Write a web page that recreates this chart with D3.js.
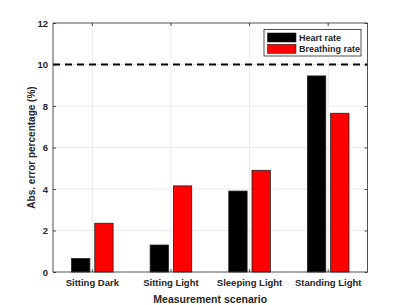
<!DOCTYPE html>
<html>
<head>
<meta charset="utf-8">
<script src="https://cdn.jsdelivr.net/npm/d3@7"></script>
<style>
  body { margin: 0; background: #fff; }
  text { font-family: "Liberation Sans", Arial, sans-serif; font-weight: bold; fill: #262626; }
</style>
</head>
<body>
<svg id="chart" width="407" height="305"></svg>
<script>
var scenarios = ["Sitting Dark", "Sitting Light", "Sleeping Light", "Standing Light"];
var heartRate = [0.65, 1.3, 3.9, 9.45];
var breathingRate = [2.35, 4.15, 4.9, 7.65];
var seriesNames = ["Heart rate", "Breathing rate"];
var seriesColors = ["#000000", "#ff0000"];
var yTicks = [0, 2, 4, 6, 8, 10, 12];
var threshold = 10;

var svg = d3.select("#chart"),
    margin = {top: 23, right: 39.5, bottom: 33, left: 53},
    width = +svg.attr("width") - margin.left - margin.right,
    height = +svg.attr("height") - margin.top - margin.bottom,
    g = svg.append("g").attr("transform", "translate(" + margin.left + "," + margin.top + ")");

var x = d3.scaleBand().domain(scenarios).range([0, width]).paddingInner(0).paddingOuter(0);
var y = d3.scaleLinear().domain([0, 12]).range([height, 0]);
var xs = d3.scaleBand().domain(seriesNames).range([x.bandwidth() / 2 - 20.8, x.bandwidth() / 2 + 20.8]).paddingInner(0.21);

// grid
g.append("g").selectAll("line")
    .data(yTicks.slice(1, -1))
    .enter().append("line")
    .attr("x1", 0).attr("x2", width)
    .attr("y1", function(d) { return y(d); })
    .attr("y2", function(d) { return y(d); })
    .attr("stroke", "#ebebeb").attr("stroke-width", 1);

g.append("g").selectAll("line")
    .data(scenarios)
    .enter().append("line")
    .attr("x1", function(d) { return x(d) + x.bandwidth() / 2; })
    .attr("x2", function(d) { return x(d) + x.bandwidth() / 2; })
    .attr("y1", 0).attr("y2", height)
    .attr("stroke", "#ebebeb").attr("stroke-width", 1);

// bars
var rows = scenarios.map(function(s, i) {
    return {name: s, values: [heartRate[i], breathingRate[i]]};
});

var groups = g.selectAll(".grp")
    .data(rows)
    .enter().append("g")
    .attr("class", "grp")
    .attr("transform", function(d) { return "translate(" + x(d.name) + ",0)"; });

groups.selectAll("rect")
    .data(function(d) { return d.values.map(function(v, j) { return {v: v, s: seriesNames[j], c: seriesColors[j]}; }); })
    .enter().append("rect")
    .attr("x", function(d) { return xs(d.s); })
    .attr("width", xs.bandwidth())
    .attr("y", function(d) { return y(d.v); })
    .attr("height", function(d) { return height - y(d.v); })
    .attr("fill", function(d) { return d.c; })
    .attr("stroke", "#222")
    .attr("stroke-width", 0.8);

// threshold line
g.append("line")
    .attr("x1", 0).attr("x2", width)
    .attr("y1", y(threshold)).attr("y2", y(threshold))
    .attr("stroke", "#000").attr("stroke-width", 2)
    .attr("stroke-dasharray", "7,5");

// axes
var axisColor = "#262626";
var yAxis = g.append("g")
    .call(d3.axisLeft(y).tickValues(yTicks).tickSize(-3).tickPadding(5));
var xAxis = g.append("g")
    .attr("transform", "translate(0," + height + ")")
    .call(d3.axisBottom(x).tickSize(-3).tickPadding(7));
var yRight = g.append("g")
    .attr("transform", "translate(" + width + ",0)")
    .call(d3.axisRight(y).tickValues(yTicks).tickSize(-3).tickFormat(""));
var xTop = g.append("g")
    .call(d3.axisTop(x).tickSize(-3).tickFormat(""));

[yAxis, xAxis, yRight, xTop].forEach(function(a) {
    a.select(".domain").attr("stroke", axisColor).attr("stroke-width", 0.8);
    a.selectAll(".tick line").attr("stroke", axisColor).attr("stroke-width", 0.8);
    a.selectAll("text").attr("font-size", 9.5).attr("fill", axisColor).attr("font-family", null);
});
yAxis.select(".domain").attr("d", "M0," + height + "V0");
xAxis.select(".domain").attr("d", "M0,0H" + width);
yRight.select(".domain").attr("d", "M0," + height + "V0");
xTop.select(".domain").attr("d", "M0,0H" + width);

// axis titles
svg.append("text")
    .attr("x", margin.left + width / 2)
    .attr("y", 302.5)
    .attr("text-anchor", "middle")
    .attr("font-size", 10.5)
    .text("Measurement scenario");

svg.append("text")
    .attr("transform", "translate(34.5," + (margin.top + height / 2) + ") rotate(-90)")
    .attr("text-anchor", "middle")
    .attr("font-size", 10)
    .text("Abs. error percentage (%)");

// legend
var legend = svg.append("g").attr("transform", "translate(264,29.5)");
legend.append("rect")
    .attr("width", 97).attr("height", 26.5)
    .attr("fill", "#fff").attr("stroke", axisColor).attr("stroke-width", 0.8);
seriesNames.forEach(function(s, i) {
    legend.append("rect")
        .attr("x", 3.5).attr("y", 3.5 + i * 11.3)
        .attr("width", 28.5).attr("height", 9)
        .attr("fill", seriesColors[i]).attr("stroke", "#222").attr("stroke-width", 0.6);
    legend.append("text")
        .attr("x", 35).attr("y", 8.2 + i * 11.3)
        .attr("dy", "0.35em")
        .attr("font-size", 9)
        .attr("fill", "#000")
        .text(s);
});
</script>
</body>
</html>
